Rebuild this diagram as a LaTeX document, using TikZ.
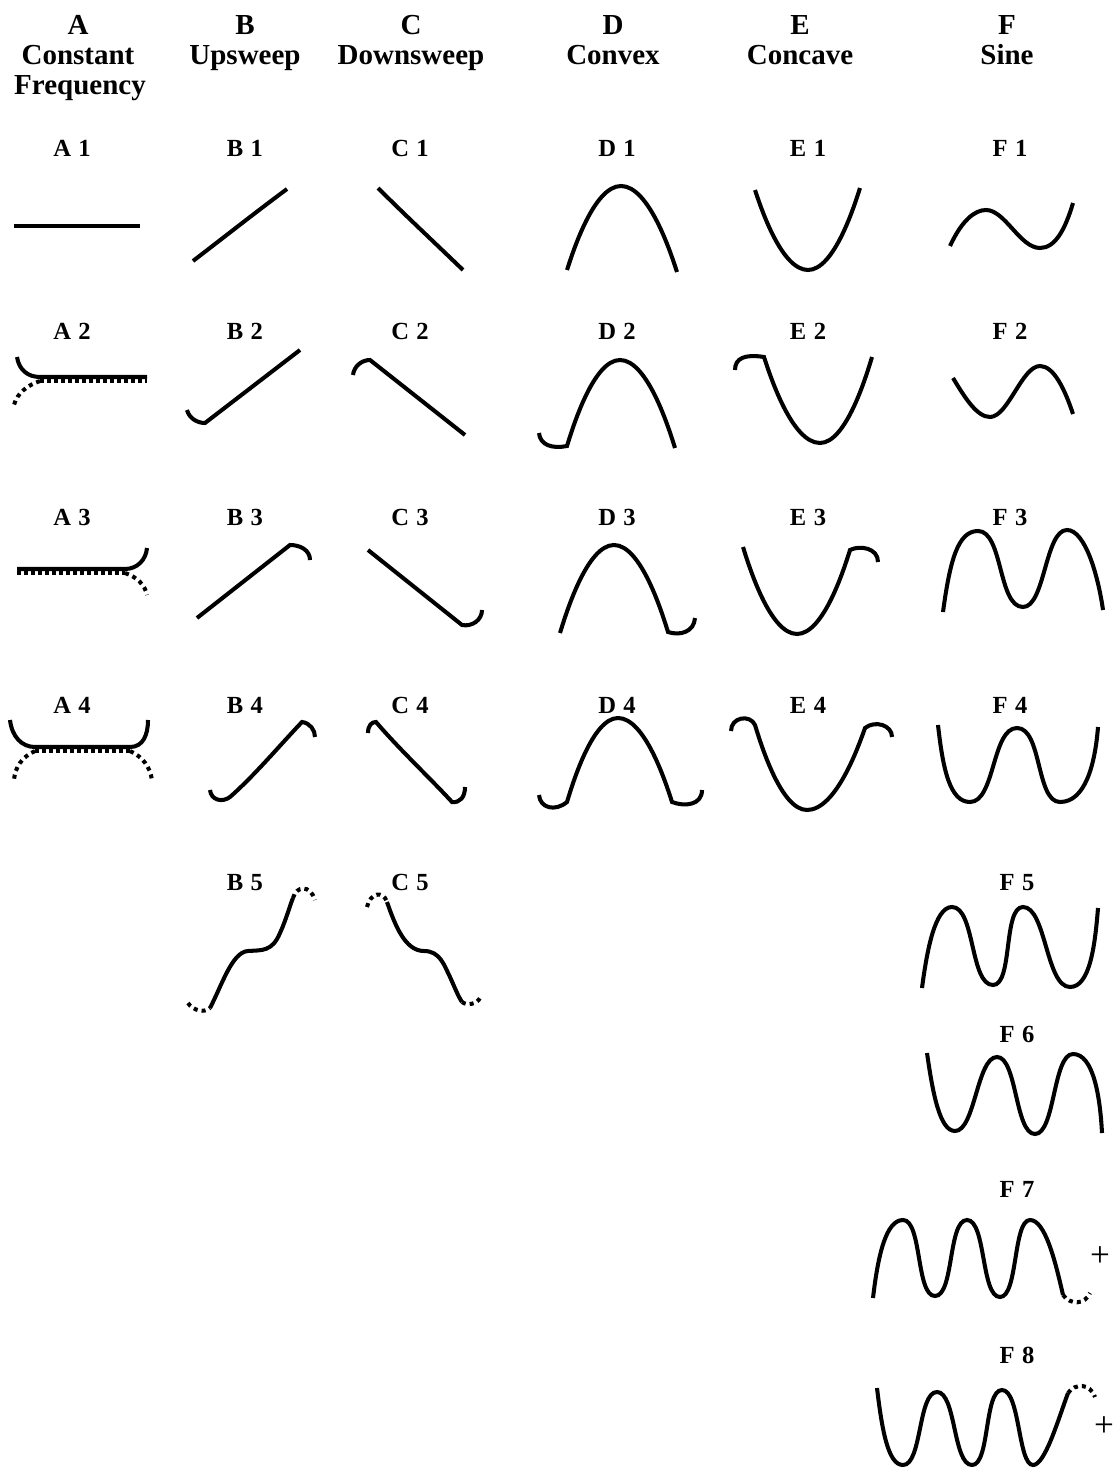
\documentclass[tikz,border=0pt]{standalone}
\usepackage{fontspec}
\setmainfont{Liberation Serif}
\begin{document}
\begin{tikzpicture}[x=0.02cm,y=-0.02cm,
  hd/.style={font=\fontsize{16.5}{18}\selectfont\bfseries,anchor=base,inner sep=0},
  lb/.style={font=\fontsize{14}{16}\selectfont\bfseries,anchor=base,inner sep=0},
  cv/.style={line width=2.3pt},
  dt/.style={line width=2.3pt,dash pattern=on 2.3pt off 2.3pt},
  cb/.style={line width=2.2pt,dash pattern=on 2pt off 2pt}]
\useasboundingbox (0,0) rectangle (1119,1469);
% column heads
\foreach \c/\x/\t in {A/78/Constant,B/245/Upsweep,C/411/Downsweep,D/613/Convex,E/800/Concave,F/1007/Sine}{
  \node[hd] (h\c) at (\x,35) {\c}; \node[hd] (n\c) at (\x,65) {\t};}
\node[hd] (fA) at (80,95) {Frequency};
% row labels
\foreach \c/\x in {A/72,B/245,C/410,D/617,E/808,F/1010}{
  \foreach \r/\y in {1/157,2/340,3/525,4/713}{\node[lb] (\c\r) at (\x,\y) {\c\hspace{0.3em}\r};}}
\node[lb] (B5) at (245,890) {B\hspace{0.3em}5}; \node[lb] (C5) at (410,890) {C\hspace{0.3em}5};
\foreach \r/\y in {5/890,6/1042,7/1197,8/1363}{\node[lb] (F\r) at (1017,\y) {F\hspace{0.3em}\r};}
% A
\draw[cv] (14,226) -- (140,226);
\draw[cv] (17,357) .. controls (19,370) and (28,377) .. (40,377) -- (147,377);
\draw[cb] (40,381) -- (147,381);
\draw[dt] (40,381) .. controls (28,385) and (17,393) .. (14,405);
\draw[cv] (17,569) -- (125,569) .. controls (137,569) and (146,560) .. (147,548);
\draw[cb] (17,573) -- (125,573);
\draw[dt] (125,573) .. controls (137,577) and (145,585) .. (147,595);
\draw[cv] (10,720) .. controls (12,737) and (22,747) .. (35,747) -- (130,747) .. controls (143,747) and (148,735) .. (148,720);
\draw[cb] (35,751) -- (130,751);
\draw[dt] (35,751) .. controls (22,757) and (15,767) .. (14,780);
\draw[dt] (130,751) .. controls (143,757) and (150,767) .. (152,780);
% B and C
\draw[cv] (193,261) .. controls (223,238) and (256,212) .. (287,189);
\draw[cv] (378,188) .. controls (405,215) and (435,243) .. (463,270);
\draw[cv] (187,410) .. controls (189,418) and (197,423) .. (205,423) -- (300,350);
\draw[cv] (353,375) .. controls (354,366) and (362,360) .. (370,360) -- (465,435);
\draw[cv] (197,618) -- (290,545) .. controls (300,545) and (310,550) .. (310,560);
\draw[cv] (368,550) -- (462,625) .. controls (472,627) and (482,620) .. (482,610);
\draw[cv] (210,790) .. controls (211,800) and (222,803) .. (230,797) .. controls (255,775) and (280,745) .. (302,722) .. controls (310,723) and (315,730) .. (315,737);
\draw[cv] (368,733) .. controls (368,725) and (372,722) .. (376,722) .. controls (400,750) and (430,778) .. (452,802) .. controls (460,803) and (465,797) .. (465,787);
\draw[dt] (188,1003) .. controls (193,1011) and (205,1013) .. (210,1008);
\draw[cv] (210,1008) .. controls (222,985) and (232,952) .. (248,951) .. controls (262,950) and (272,952) .. (280,933) .. controls (286,920) and (290,905) .. (293,898);
\draw[dt] (293,898) .. controls (296,886) and (310,884) .. (315,900);
\draw[dt] (367,907) .. controls (370,893) and (383,890) .. (387,902);
\draw[cv] (387,902) .. controls (395,925) and (405,951) .. (424,951) .. controls (440,951) and (444,965) .. (450,977) .. controls (455,988) and (458,996) .. (462,1002);
\draw[dt] (462,1002) .. controls (467,1006) and (477,1004) .. (480,998);
% D and E
\draw[cv] (567,270) parabola bend (621,186) (677,272);
\draw[cv] (755,190) parabola bend (808,270) (860,188);
\draw[cv] (539,433) .. controls (540,445) and (552,449) .. (567,446) parabola bend (620,360) (675,448);
\draw[cv] (735,370) .. controls (735,358) and (745,354) .. (764,357) parabola bend (820,443) (872,357);
\draw[cv] (560,633) parabola bend (614,545) (668,632) .. controls (680,636) and (694,632) .. (695,618);
\draw[cv] (743,547) parabola bend (797,634) (850,550) .. controls (860,545) and (878,548) .. (878,562);
\draw[cv] (539,795) .. controls (540,808) and (555,812) .. (567,802) parabola bend (618,718) (672,802) .. controls (685,807) and (702,805) .. (702,790);
\draw[cv] (731,731) .. controls (731,717) and (750,714) .. (755,725) parabola bend (807,810) (865,728) .. controls (875,720) and (892,725) .. (892,737);
% F
\draw[cv] (950,246) .. controls (962,220) and (975,210) .. (986,210) .. controls (1005,210) and (1020,248) .. (1040,248) .. controls (1055,248) and (1065,230) .. (1073,203);
\draw[cv] (953,378) .. controls (965,398) and (977,417) .. (990,417) .. controls (1008,417) and (1022,366) .. (1040,366) .. controls (1054,366) and (1065,390) .. (1073,414);
\draw[cv] (943,612) .. controls (950,560) and (958,531) .. (978,531) .. controls (1003,531) and (998,607) .. (1023,607) .. controls (1045,607) and (1045,530) .. (1067,530) .. controls (1085,530) and (1098,575) .. (1103,610);
\draw[cv] (938,725) .. controls (943,770) and (950,802) .. (970,802) .. controls (995,802) and (992,728) .. (1017,728) .. controls (1042,728) and (1036,802) .. (1060,802) .. controls (1085,802) and (1095,765) .. (1098,727);
\draw[cv] (922,988) .. controls (927,950) and (935,907) .. (952,907) .. controls (975,907) and (970,985) .. (993,985) .. controls (1013,985) and (1003,907) .. (1023,907) .. controls (1046,907) and (1046,987) .. (1070,987) .. controls (1090,987) and (1095,945) .. (1098,908);
\draw[cv] (927,1053) .. controls (933,1095) and (940,1131) .. (955,1131) .. controls (975,1131) and (977,1057) .. (997,1057) .. controls (1017,1057) and (1015,1134) .. (1035,1134) .. controls (1055,1134) and (1053,1054) .. (1073,1054) .. controls (1093,1054) and (1100,1095) .. (1102,1133);
\draw[cv] (873,1298) .. controls (878,1255) and (886,1220) .. (903,1220) .. controls (922,1220) and (916,1296) .. (935,1296) .. controls (954,1296) and (948,1220) .. (967,1220) .. controls (986,1220) and (981,1297) .. (1000,1297) .. controls (1018,1297) and (1013,1220) .. (1030,1220) .. controls (1045,1220) and (1055,1260) .. (1063,1295);
\draw[dt] (1063,1295) .. controls (1070,1305) and (1085,1305) .. (1090,1293);
\node[font=\fontsize{20}{20}\selectfont,inner sep=0] (p7) at (1100,1257) {+};
\draw[cv] (877,1388) .. controls (882,1430) and (888,1465) .. (903,1465) .. controls (922,1465) and (918,1392) .. (937,1392) .. controls (956,1392) and (953,1465) .. (972,1465) .. controls (990,1465) and (984,1390) .. (1002,1390) .. controls (1020,1390) and (1018,1465) .. (1033,1465) .. controls (1045,1465) and (1058,1420) .. (1068,1393);
\draw[dt] (1068,1393) .. controls (1075,1383) and (1090,1383) .. (1095,1397);
\node[font=\fontsize{20}{20}\selectfont,inner sep=0] (p8) at (1104,1427) {+};
\end{tikzpicture}
\end{document}
